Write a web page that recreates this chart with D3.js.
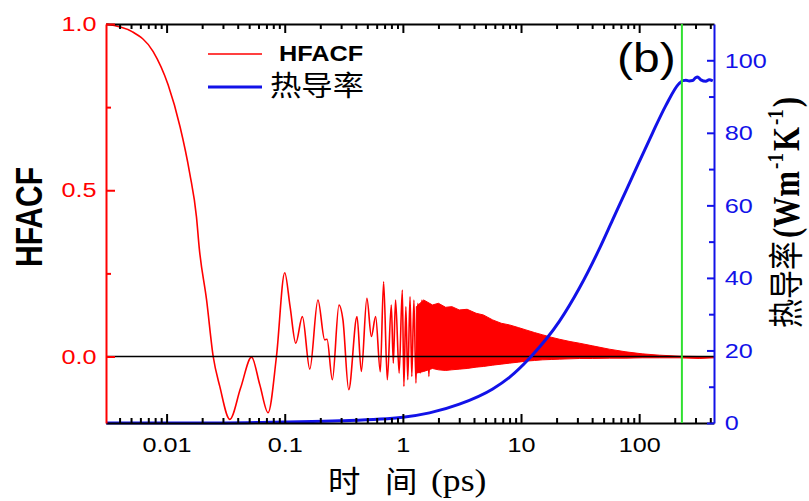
<!DOCTYPE html>
<html><head><meta charset="utf-8">
<script src="https://cdn.jsdelivr.net/npm/d3@7"></script>
<style>body{margin:0;background:#fff}svg{display:block}</style>
</head><body>
<svg id="c" width="809" height="501"></svg>
<script>
// ---------- data ----------
const hfacfTime  = [0.00307,0.0051,0.0077,0.0103,0.013,0.0157,0.0179,0.0189,0.0218,0.0248,0.0282,0.0343,0.0423,0.0524,0.0615,0.0723,0.0851,0.1,0.111,0.124,0.141,0.163,0.191,0.218,0.228,0.253,0.288,0.311,0.348,0.409,0.445,0.496,0.541,0.588,0.644,0.687,0.738,0.798,0.83,0.867,0.93,0.989,1.02,1.06,1.10,1.15,1.19,1.24,1.29,1.34,1.40,1.45,1.52,1.58,1.66,1.74,1.8];
const hfacfValue = [1.0,0.977,0.917,0.817,0.691,0.551,0.42,0.326,0.17,0.0,-0.09,-0.189,-0.095,-0.002,-0.085,-0.169,0.0,0.252,0.15,0.04,0.12,-0.038,0.17,0.05,0.052,-0.07,0.155,0.11,-0.10,0.12,-0.045,0.175,0.06,0.12,-0.046,0.225,-0.07,0.155,-0.02,0.17,-0.05,0.20,-0.09,0.15,-0.07,0.18,-0.06,0.17,-0.08,0.16,-0.05,0.17,-0.04,0.15,-0.06,0.14,0.0];

// dense fast-oscillation band of HFACF: envelope
const bandTime  = [1.3,1.5,1.78,2.0,2.3,2.6,3.0,3.5,4.17,4.8,5.76,6.8,7.98,9.5,11,13,15.3,18,21.1,26,31.2,40.4,55.9,77.3,106,148,218,322,430];
const bandUpper = [0.15,0.17,0.155,0.16,0.148,0.15,0.14,0.142,0.13,0.125,0.11,0.10,0.095,0.087,0.08,0.072,0.065,0.058,0.052,0.045,0.04,0.032,0.022,0.014,0.008,0.004,0.001,0.0,0.0];
const bandLower = [-0.05,-0.045,-0.036,-0.04,-0.042,-0.04,-0.038,-0.036,-0.032,-0.03,-0.026,-0.023,-0.02,-0.017,-0.014,-0.012,-0.01,-0.009,-0.008,-0.007,-0.006,-0.006,-0.005,-0.005,-0.004,-0.004,-0.004,-0.006,-0.004];

const kappaTime  = [0.00307,0.0191,0.1,0.292,1.0,1.68,3.01,5.76,7.98,11.9,21.1,31.2,46.0,59.6,77.3,100,130,168,218,235,249,265,283,300,312,333,367,391,420];
const kappaValue = [0,0,0.3,0.6,1.6,2.8,5.2,9.4,12.6,18,28,37.2,48,56,64,72,80,87.5,93.6,94.4,94.5,94.3,94.4,95.2,95.4,94.6,94.2,94.6,94.3];

const cutoffTime = 230;

const xMajorTicks = [0.01,0.1,1,10,100];
const xTickLabels = ["0.01","0.1","1","10","100"];
const xMinorMultipliers = [2,3,4,5,6,7,8,9];
const leftTicks = [0,0.5,1.0];
const leftTickLabels = ["0.0","0.5","1.0"];
const leftMinorTicks = [0.25,0.75];
const rightTicks = [0,20,40,60,80,100];
const rightTickLabels = ["0","20","40","60","80","100"];
const rightMinorTicks = [10,30,50,70,90];

// ---------- layout ----------
const PL = 106, PR = 714, PT = 24, PB = 423;
const RED = "#ff0000", BLUE = "#1212e8", GREEN = "#30e030";
const SX = 1.2; // horizontal stretch of the lettering in the original

const svg = d3.select("#c");
const x = d3.scaleLog().domain([0.00307, 430]).range([PL, PR]);
const yL = d3.scaleLinear().domain([-0.2, 1.0]).range([PB, PT]);
const yR = d3.scaleLinear().domain([0, 110]).range([PB, PT]);

const minorX = [];
for (let e = -3; e <= 2; e++) xMinorMultipliers.forEach(m => {
  const v = m * Math.pow(10, e);
  if (v >= 0.00307 && v <= 430) minorX.push(v);
});

svg.append("defs").append("clipPath").attr("id","clip")
  .append("rect").attr("x",PL).attr("y",PT-2).attr("width",PR-PL).attr("height",PB-PT+5);

const plot = svg.append("g").attr("clip-path","url(#clip)");

// band
const band = bandTime.map((t,i)=>({t, u:bandUpper[i], l:bandLower[i]}));
plot.append("path").datum(band)
  .attr("d", d3.area().x(d=>x(d.t)).y0(d=>yL(d.l)).y1(d=>yL(d.u)))
  .attr("fill", RED).attr("stroke", RED).attr("stroke-width", 1);

// HFACF line
const hf = hfacfTime.map((t,i)=>({t, v:hfacfValue[i]}));
plot.append("path").datum(hf)
  .attr("d", d3.line().x(d=>x(d.t)).y(d=>yL(d.v)).curve(d3.curveMonotoneX))
  .attr("fill","none").attr("stroke",RED).attr("stroke-width",1.6);

// zero line
plot.append("line").attr("x1",PL).attr("x2",PR).attr("y1",yL(0)).attr("y2",yL(0))
  .attr("stroke","#000").attr("stroke-width",1.6);

// axes
function styleAxis(g, color){
  g.selectAll(".domain").attr("stroke",color).attr("stroke-width",2);
  g.selectAll(".tick line").attr("stroke",color).attr("stroke-width",2);
  g.selectAll(".tick text").attr("fill",color)
    .attr("font-family","'Liberation Sans', Arial, sans-serif").attr("font-size",21)
    .attr("transform",`scale(${SX},1)`);
}
function minor(g){ g.select(".domain").remove(); }

// kappa line under the axes' ticks but over the plot
const kp = kappaTime.map((t,i)=>({t, v:kappaValue[i]}));
const overlay = svg.append("g").attr("clip-path","url(#clip)");
overlay.append("path").datum(kp)
  .attr("d", d3.line().x(d=>x(d.t)).y(d=>yR(d.v)).curve(d3.curveMonotoneX))
  .attr("fill","none").attr("stroke",BLUE).attr("stroke-width",3);

const gb = svg.append("g").attr("transform",`translate(0,${PB})`)
  .call(d3.axisBottom(x).tickValues(xMajorTicks).tickFormat((d,i)=>xTickLabels[i])
    .tickSizeInner(-9).tickSizeOuter(0).tickPadding(14));
styleAxis(gb,"#000");
const gbm = svg.append("g").attr("transform",`translate(0,${PB})`)
  .call(d3.axisBottom(x).tickValues(minorX).tickFormat(()=> "").tickSizeInner(-5).tickSizeOuter(0));
minor(gbm); styleAxis(gbm,"#000");

const gt = svg.append("g").attr("transform",`translate(0,${PT})`)
  .call(d3.axisTop(x).tickValues(xMajorTicks).tickFormat(()=> "").tickSizeInner(-9).tickSizeOuter(0));
styleAxis(gt,"#000");
const gtm = svg.append("g").attr("transform",`translate(0,${PT})`)
  .call(d3.axisTop(x).tickValues(minorX).tickFormat(()=> "").tickSizeInner(-5).tickSizeOuter(0));
minor(gtm); styleAxis(gtm,"#000");

const gl = svg.append("g").attr("transform",`translate(${PL},0)`)
  .call(d3.axisLeft(yL).tickValues(leftTicks).tickFormat((d,i)=>leftTickLabels[i])
    .tickSizeInner(-9).tickSizeOuter(0).tickPadding(8));
styleAxis(gl,RED);
const glm = svg.append("g").attr("transform",`translate(${PL},0)`)
  .call(d3.axisLeft(yL).tickValues(leftMinorTicks).tickFormat(()=> "").tickSizeInner(-5).tickSizeOuter(0));
minor(glm); styleAxis(glm,RED);

const gr = svg.append("g").attr("transform",`translate(${PR},0)`)
  .call(d3.axisRight(yR).tickValues(rightTicks).tickFormat((d,i)=>rightTickLabels[i])
    .tickSizeInner(-7).tickSizeOuter(0).tickPadding(9));
styleAxis(gr,BLUE);
const grm = svg.append("g").attr("transform",`translate(${PR},0)`)
  .call(d3.axisRight(yR).tickValues(rightMinorTicks).tickFormat(()=> "").tickSizeInner(-5).tickSizeOuter(0));
minor(grm); styleAxis(grm,BLUE);

// cutoff
svg.append("line").attr("x1",x(cutoffTime)).attr("x2",x(cutoffTime)).attr("y1",PT).attr("y2",PB)
  .attr("stroke",GREEN).attr("stroke-width",2);

// ---------- texts ----------
function stext(px, py, sx, rot, str, attrs){
  const g = svg.append("g").attr("transform",`translate(${px},${py}) scale(${sx},1)` + (rot?` rotate(${rot})`:""));
  const t = g.append("text");
  Object.entries(attrs).forEach(([k,v])=>t.attr(k,v));
  if (str !== null) t.text(str);
  return t;
}

// legend
svg.append("line").attr("x1",208).attr("x2",262).attr("y1",54).attr("y2",54).attr("stroke",RED).attr("stroke-width",1.6);
svg.append("line").attr("x1",208).attr("x2",262).attr("y1",87).attr("y2",87).attr("stroke",BLUE).attr("stroke-width",3);
stext(279, 61, 1.15, 0, "HFACF", {"font-family":"'Liberation Sans', Arial, sans-serif","font-size":22,"font-weight":"bold","fill":"#000"});
stext(270, 96, 1.12, 0, "热导率", {"font-family":"'Noto Sans CJK SC', sans-serif","font-size":28,"fill":"#000"});

// (b)
stext(617, 72, SX, 0, "(b)", {"font-family":"'Liberation Sans', Arial, sans-serif","font-size":40,"fill":"#000"});

// left title
stext(42, 217, SX, -90, "HFACF", {"font-family":"'Liberation Sans', Arial, sans-serif","font-size":30,"font-weight":"bold","fill":"#000","text-anchor":"middle"});

// x title
stext(328, 492, 1.08, 0, "时", {"font-family":"'Noto Sans CJK SC', sans-serif","font-size":30,"fill":"#000"});
stext(385, 492, 1.08, 0, "间", {"font-family":"'Noto Sans CJK SC', sans-serif","font-size":30,"fill":"#000"});
stext(431, 491, 1.15, 0, "(ps)", {"font-family":"'Liberation Serif', 'Times New Roman', serif","font-size":31,"fill":"#000"});

// right title
const rt = stext(799, 328, SX, -90, null, {"fill":"#000"});
const serif = "'Liberation Serif', 'Times New Roman', serif";
rt.append("tspan").attr("font-family","'Noto Sans CJK SC', sans-serif").attr("font-size",29).text("热导率");
rt.append("tspan").attr("font-family",serif).attr("font-size",31).attr("font-weight","bold").attr("dx",3).text("(Wm");
rt.append("tspan").attr("font-family",serif).attr("font-size",19).attr("font-weight","bold").attr("dx",2).attr("dy",-13).text("-1");
rt.append("tspan").attr("font-family",serif).attr("font-size",31).attr("font-weight","bold").attr("dx",2).attr("dy",13).text("K");
rt.append("tspan").attr("font-family",serif).attr("font-size",19).attr("font-weight","bold").attr("dx",2).attr("dy",-13).text("-1");
rt.append("tspan").attr("font-family",serif).attr("font-size",31).attr("font-weight","bold").attr("dx",2).attr("dy",13).text(")");
</script>
</body></html>
